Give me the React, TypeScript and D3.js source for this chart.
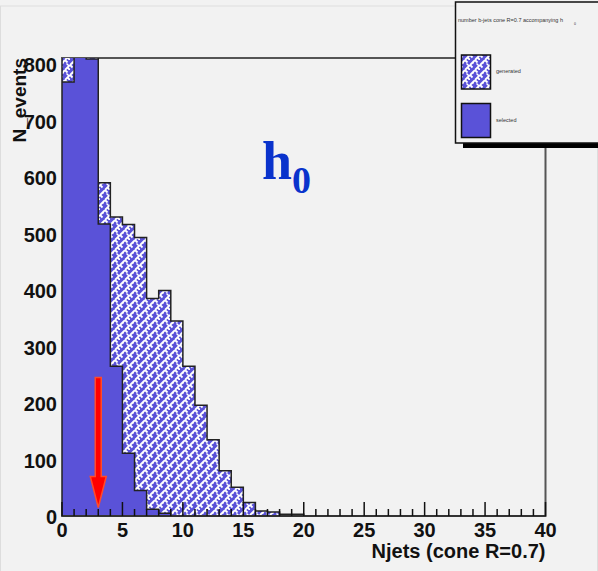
import React from "react";
import * as d3 from "d3";

const binEdges = d3.range(0, 41);
const generated = [900, 900, 900, 590, 529, 516, 493, 385, 399, 345, 265, 196, 135, 80, 51, 24, 9, 7, 3, 3, 0, 0, 0, 0, 0, 0, 0, 0, 0, 0, 0, 0, 0, 0, 0, 0, 0, 0, 0, 0];
const selected = [768, 900, 809, 517, 265, 111, 45, 12, 5, 0, 0, 0, 0, 0, 0, 0, 0, 0, 0, 0, 0, 0, 0, 0, 0, 0, 0, 0, 0, 0, 0, 0, 0, 0, 0, 0, 0, 0, 0, 0];
const xTicks = [0, 5, 10, 15, 20, 25, 30, 35, 40];
const yTicks = [0, 100, 200, 300, 400, 500, 600, 700, 800];
const legendItems = ["generated", "selected"];
const arrowX = 3;
const arrowTop = 245;
const arrowBottom = 15;

const W = 598, H = 571;
const X0 = 62, X1 = 545.5, Y0 = 516, Ytop = 58;
const BLUE = "#5a52d8";

function stepPath(vals: number[], x: d3.ScaleLinear<number, number>, y: d3.ScaleLinear<number, number>) {
  let p = `M${x(0)},${y(0)}`;
  vals.forEach((v, i) => {
    p += `L${x(i)},${y(v)}L${x(i + 1)},${y(v)}`;
  });
  p += `L${x(vals.length)},${y(0)}Z`;
  return p;
}

export default function App() {
  const x = d3.scaleLinear().domain([0, 40]).range([X0, X1]);
  const y = d3.scaleLinear().domain([0, 800]).range([Y0, Y0 - 452]);
  const minor = binEdges.filter((d) => d % 5 !== 0);
  const font = "'Liberation Sans', Arial, sans-serif";
  return (
    <svg width={W} height={H} style={{ position: "absolute", left: 0, top: 0 }}>
      <defs>
        <pattern id="weave" width="10" height="10" patternUnits="userSpaceOnUse">
          <rect width="10" height="10" fill={BLUE} />
          <path d="M0,5 L5,0 M5,10 L10,5" stroke="#fff" strokeWidth="1.8" />
          <path d="M5,0 L7.5,2.5 M0,5 L2.5,7.5 M2.5,2.5 L3.5,3.5 M7.5,7.5 L10,10" stroke="#fff" strokeWidth="1.8" />
          <path d="M6.5,3.5 L9,6 M1.5,8.5 L1.5,8.5" stroke="#fff" strokeWidth="1.4" />
        </pattern>
        <clipPath id="frameClip">
          <rect x={X0} y={Ytop} width={X1 - X0} height={Y0 - Ytop + 1} />
        </clipPath>
      </defs>
      <rect x={0} y={0} width={W} height={H} fill="#f2f2f2" />
      <rect x={0.5} y={6} width={W - 1} height={H - 4} fill="none" stroke="#ddd" />
      {/* frame */}
      <rect x={X0} y={Ytop} width={X1 - X0} height={Y0 - Ytop} fill="#f2f2f2" stroke="#555" strokeWidth={2} />
      <g clipPath="url(#frameClip)">
        <path d={stepPath(generated, x, y)} fill="url(#weave)" stroke="#222" strokeWidth={1.5} />
        <path d={stepPath(selected, x, y)} fill={BLUE} stroke="#222" strokeWidth={1.5} />
      </g>
      {/* x axis */}
      <line x1={X0} x2={X1} y1={Y0} y2={Y0} stroke="#333" strokeWidth={2} />
      {xTicks.map((t) => (
        <line key={"M" + t} x1={x(t)} x2={x(t)} y1={Y0} y2={Y0 - 14} stroke="#111" strokeWidth={1.5} />
      ))}
      {minor.map((t) => (
        <line key={"m" + t} x1={x(t)} x2={x(t)} y1={Y0} y2={Y0 - 7} stroke="#111" strokeWidth={1.5} />
      ))}
      {xTicks.map((t) => (
        <text key={"xl" + t} x={x(t)} y={Y0 + 21} textAnchor="middle" fontFamily={font} fontWeight="bold" fontSize={20} fill="#111">
          {t}
        </text>
      ))}
      {yTicks.map((t) => (
        <text key={"yl" + t} x={57} y={y(t) + 8} textAnchor="end" fontFamily={font} fontWeight="bold" fontSize={20} fill="#111">
          {t}
        </text>
      ))}
      <text x={X1} y={558} textAnchor="end" fontFamily={font} fontWeight="bold" fontSize={20} fill="#111">
        Njets (cone R=0.7)
      </text>
      <text transform={`translate(26,58) rotate(-90)`} textAnchor="end" fontFamily={font} fontWeight="bold" fontSize={19} fill="#111">
        N_events
      </text>
      {/* h0 label */}
      <text x={262} y={179} fontFamily="'Liberation Serif', 'DejaVu Serif', serif" fontWeight="bold" fontSize={54} fill="#0a33cc">
        h
        <tspan fontSize={38} dy={14}>0</tspan>
      </text>
      {/* arrow */}
      <path
        d={`M${x(arrowX) - 3},${y(arrowTop)} L${x(arrowX) + 3},${y(arrowTop)} L${x(arrowX) + 3},${y(arrowBottom) - 31} L${x(arrowX) + 8},${y(arrowBottom) - 31} L${x(arrowX)},${y(arrowBottom)} L${x(arrowX) - 8},${y(arrowBottom) - 31} L${x(arrowX) - 3},${y(arrowBottom) - 31} Z`}
        fill="#ff0000"
        stroke="#ff4a2a"
        strokeWidth={1.5}
      />
      {/* legend */}
      <rect x={463} y={143} width={140} height={5} fill="#000" />
      <rect x={455.5} y={2} width={150} height={141} fill="#f2f2f2" stroke="#111" strokeWidth={1.5} />
      <text x={458} y={22} fontFamily={font} fontSize={5.5} fill="#333">
        number b-jets cone R=0.7 accompanying h
      </text>
      <text x={574} y={25} fontFamily={font} fontSize={3.5} fill="#333">0</text>
      {legendItems.map((name, i) => (
        <g key={name}>
          <rect x={461.5} y={55 + i * 48.5} width={29} height={34} fill={i === 0 ? "url(#weave)" : BLUE} stroke="#111" strokeWidth={1.5} />
          <text x={496} y={73 + i * 48.5} fontFamily={font} fontSize={5.5} fill="#333">
            {name}
          </text>
        </g>
      ))}
    </svg>
  );
}
